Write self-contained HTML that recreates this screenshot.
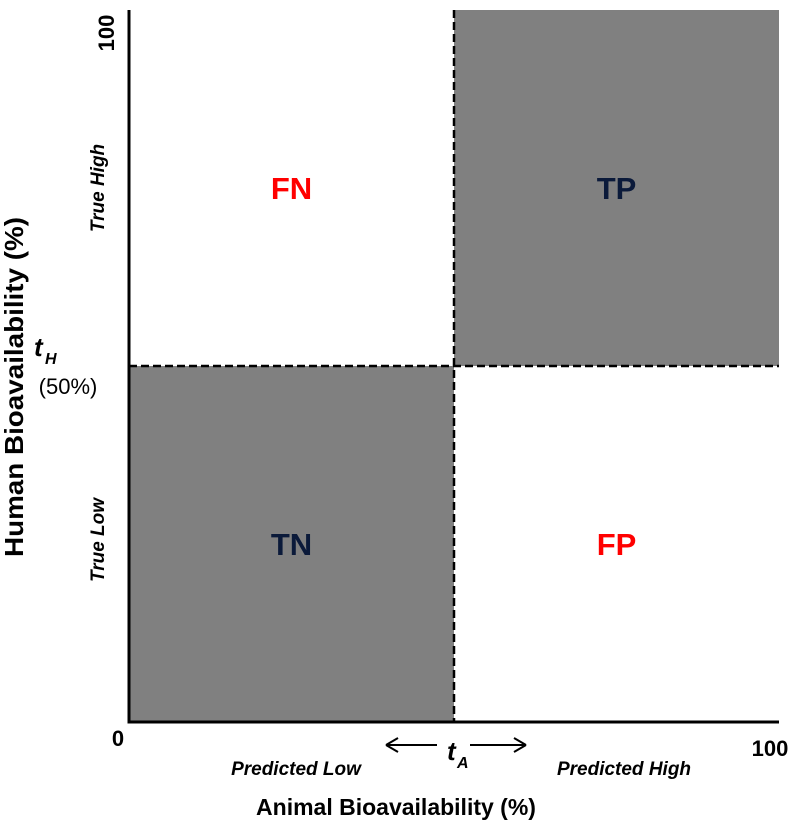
<!DOCTYPE html>
<html><head><meta charset="utf-8"><style>
body{margin:0;background:#fff}
svg{display:block;font-family:"Liberation Sans",Arial,sans-serif}
</style></head><body>
<svg width="792" height="830" viewBox="0 0 792 830">
<g id="g"></g>
</svg>
<script>
const thresholds = [50, 50]; // [animal tA, human tH]
const quadrantLabels = ["TP","FN","TN","FP"];
const quadrantX = [75, 25, 25, 75];
const quadrantY = [75, 75, 25, 25];
const quadrantColors = ["#0b1a3a","#ff0000","#0b1a3a","#ff0000"];
const shaded = [1,0,1,0];
const xTicks = ["0","100"];

const X0=129, X1=779, Y0=722, Y1=10;
const sx=v=>X0+(X1-X0)*v/100;
const sy=v=>Y0+(Y1-Y0)*v/100;
const NS="http://www.w3.org/2000/svg";
const g=document.getElementById('g');
function el(t,a,txt){const e=document.createElementNS(NS,t);for(const k in a)e.setAttribute(k,a[k]);if(txt!=null)e.textContent=txt;g.appendChild(e);return e;}

const tx=sx(thresholds[0]), ty=sy(thresholds[1]);
for(let i=0;i<4;i++){
  if(!shaded[i])continue;
  const xl=quadrantX[i]>thresholds[0]?tx:X0, xr=quadrantX[i]>thresholds[0]?X1:tx;
  const yt=quadrantY[i]>thresholds[1]?Y1:ty, yb=quadrantY[i]>thresholds[1]?ty:Y0;
  const r=el('rect',{x:xl,y:yt,width:xr-xl,height:yb-yt,fill:'#808080'});
  
  
}
let d=el('line',{x1:tx,y1:Y1,x2:tx,y2:Y0,stroke:'#000','stroke-width':2.5,'stroke-dasharray':'8,4'});

d=el('line',{x1:X0,y1:ty,x2:X1,y2:ty,stroke:'#000','stroke-width':2.5,'stroke-dasharray':'8,4'});

d=el('line',{x1:X0,y1:Y1,x2:X0,y2:Y0+1.5,stroke:'#000','stroke-width':3});

d=el('line',{x1:X0-1.5,y1:Y0,x2:X1,y2:Y0,stroke:'#000','stroke-width':3});

for(let i=0;i<4;i++){
  const t=el('text',{x:sx(quadrantX[i]),y:sy(quadrantY[i])+11,'text-anchor':'middle','font-size':31,'font-weight':'bold',fill:quadrantColors[i]},quadrantLabels[i]);
  
  
}
let t=el('text',{x:118,y:746,'text-anchor':'middle','font-size':22,'font-weight':'bold'},xTicks[0]);

t=el('text',{x:770,y:756,'text-anchor':'middle','font-size':22,'font-weight':'bold'},xTicks[1]);

t=el('text',{x:0,y:0,'text-anchor':'middle','font-size':22,'font-weight':'bold',transform:'translate(114,33) rotate(-90)'},"100");

t=el('text',{x:34,y:356,'font-size':26,'font-weight':'bold','font-style':'italic'},"t");

el('text',{x:45,y:364,'font-size':16,'font-weight':'bold','font-style':'italic'},"H");
t=el('text',{x:68,y:394,'text-anchor':'middle','font-size':22},"(50%)");

t=el('text',{x:447,y:760,'font-size':26,'font-weight':'bold','font-style':'italic'},"t");

el('text',{x:457,y:768,'font-size':16,'font-weight':'bold','font-style':'italic'},"A");
d=el('path',{d:'M386,745 H437 M386,745 l12,-7 M386,745 l12,7',stroke:'#000','stroke-width':2,fill:'none'});

d=el('path',{d:'M470,745 H526 M526,745 l-12,-7 M526,745 l-12,7',stroke:'#000','stroke-width':2,fill:'none'});

t=el('text',{x:296,y:775,'text-anchor':'middle','font-size':19,'font-weight':'bold','font-style':'italic'},"Predicted Low");

t=el('text',{x:624,y:775,'text-anchor':'middle','font-size':19,'font-weight':'bold','font-style':'italic'},"Predicted High");

t=el('text',{x:0,y:0,'text-anchor':'middle','font-size':19,'font-weight':'bold','font-style':'italic',transform:'translate(104,188) rotate(-90)'},"True High");

t=el('text',{x:0,y:0,'text-anchor':'middle','font-size':19,'font-weight':'bold','font-style':'italic',transform:'translate(104,540) rotate(-90)'},"True Low");

t=el('text',{x:396,y:815,'text-anchor':'middle','font-size':23,'font-weight':'bold'},"Animal Bioavailability (%)");

t=el('text',{x:0,y:0,'text-anchor':'middle','font-size':26,'font-weight':'bold','xml:space':'preserve','textLength':340,'lengthAdjust':'spacingAndGlyphs',transform:'translate(23,387) rotate(-90)'},"Human  Bioavailability (%)");

</script>
</body></html>
